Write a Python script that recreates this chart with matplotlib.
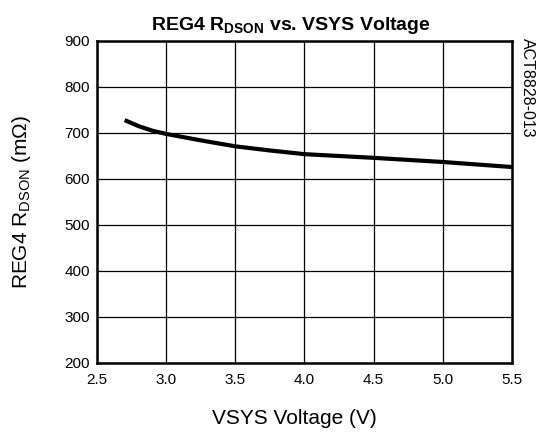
import matplotlib.pyplot as plt

# -------------------------
# Data
# -------------------------

vsys = [2.7, 2.8, 2.9, 3.0, 3.25, 3.5, 3.75, 4.0, 4.5, 5.0, 5.5]
rdson = [728, 715, 705, 698, 684, 671, 662, 654, 646, 637, 626]

x_ticks = [2.5, 3.0, 3.5, 4.0, 4.5, 5.0, 5.5]
y_ticks = [200, 300, 400, 500, 600, 700, 800, 900]

plt.rcParams["font.family"] = ["Liberation Sans", "DejaVu Sans"]

fig = plt.figure(figsize=(5.42, 4.34), dpi=100)
ax = fig.add_axes([97 / 542, 1 - 363 / 434, 415 / 542, 322 / 434])

ax.plot(vsys, rdson, color="black", linewidth=3.0, solid_capstyle="butt")

ax.set_xlim(2.5, 5.5)
ax.set_ylim(200, 900)
ax.set_xticks(x_ticks)
ax.set_xticklabels([f"{t:.1f}" for t in x_ticks])
ax.set_yticks(y_ticks)
ax.grid(True, color="black", linewidth=0.9)
ax.tick_params(length=0, labelsize=11)
ax.tick_params(axis="x", pad=7)
ax.tick_params(axis="y", pad=5)

for s in ax.spines.values():
    s.set_linewidth(1.8)

ax.set_xlabel("VSYS Voltage (V)", fontsize=15, va="center")
ax.xaxis.set_label_coords((294 - 97) / 415, (363 - 418) / 322)
ax.set_ylabel("REG4 R$_{\\mathregular{DSON}}$ (m\u03a9)", fontsize=15, va="center")
ax.yaxis.set_label_coords((22 - 97) / 415, 0.5)
ax.set_title("REG4 R$_{\\mathregular{DSON}}$ vs. VSYS Voltage",
             fontsize=14, fontweight="bold", pad=8, x=(291 - 97) / 415)

fig.text(527 / 542, 1 - 38 / 434, "ACT8828-013", rotation=-90,
         ha="center", va="top", fontsize=11.5)

fig.savefig("out.png", dpi=100)
plt.close()
